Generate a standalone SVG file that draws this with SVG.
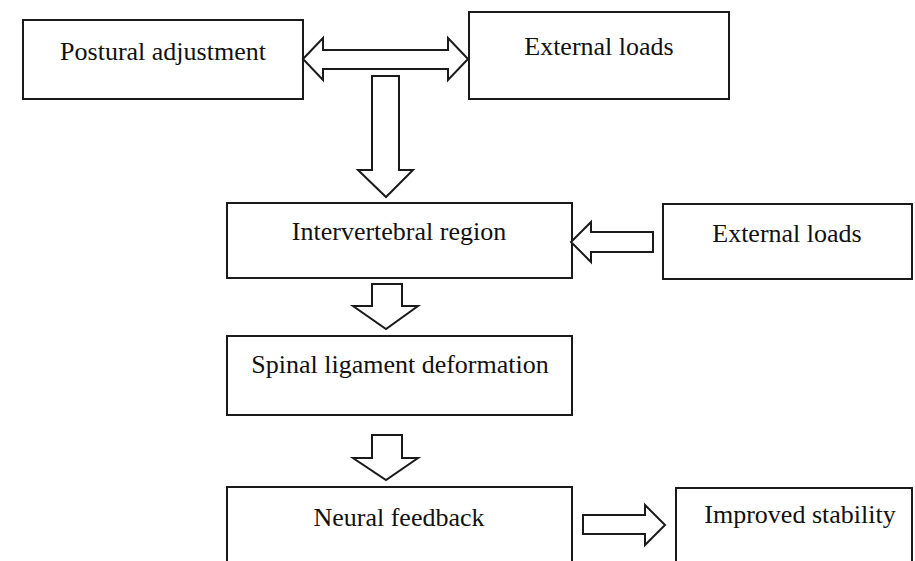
<svg xmlns="http://www.w3.org/2000/svg" width="915" height="561" viewBox="0 0 915 561">
<style>
.box{fill:#fff;stroke:#1a1a1a;stroke-width:2}
.arr{fill:#fff;stroke:#1a1a1a;stroke-width:2;stroke-linejoin:miter}
.lbl{font-family:"Liberation Serif","Times New Roman",serif;font-size:26px;fill:#111;text-anchor:middle}
</style>
<rect width="915" height="561" fill="#fff"/>
<g id="n1"><rect class="box" x="23" y="20" width="280" height="79"/><text class="lbl" x="163" y="60">Postural adjustment</text></g>
<g id="n2"><rect class="box" x="469" y="12" width="260" height="87"/><text class="lbl" x="599" y="55">External loads</text></g>
<g id="n3"><rect class="box" x="227" y="203" width="345" height="75"/><text class="lbl" x="399" y="240">Intervertebral region</text></g>
<g id="n4"><rect class="box" x="663" y="204" width="249" height="75"/><text class="lbl" x="787" y="242">External loads</text></g>
<g id="n5"><rect class="box" x="227" y="336" width="345" height="79"/><text class="lbl" x="400" y="373">Spinal ligament deformation</text></g>
<g id="n6"><rect class="box" x="227" y="487" width="345" height="90"/><text class="lbl" x="399" y="526">Neural feedback</text></g>
<g id="n7"><rect class="box" x="676" y="488" width="236" height="90"/><text class="lbl" x="800" y="523">Improved stability</text></g>
<g id="connectors">
<polygon class="arr" points="303,59 323,38 323,50 448,50 448,38 468,59 448,80 448,69 323,69 323,80"/>
<polygon class="arr" points="372,76 399,76 399,170 413,170 386,197 358,170 372,170"/>
<polygon class="arr" points="653,232 653,252 591,252 591,262 571,242 591,222 591,232"/>
<polygon class="arr" points="372,284 402,284 402,306 418,306 386,329 353,306 372,306"/>
<polygon class="arr" points="372,435 402,435 402,458 418,458 386,480 353,458 372,458"/>
<polygon class="arr" points="583,515 645,515 645,505 665,525 645,545 645,534 583,534"/>
</g>
</svg>
